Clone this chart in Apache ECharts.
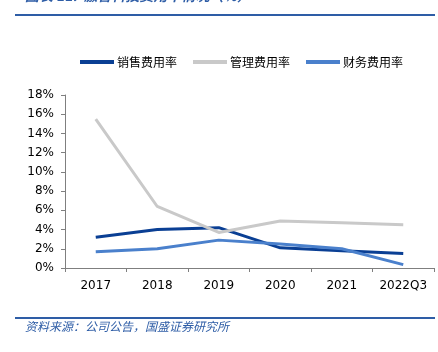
<!DOCTYPE html>
<html>
<head>
<meta charset="utf-8">
<script src="https://cdn.jsdelivr.net/npm/echarts@6/dist/echarts.min.js"></script>
<style>
  html, body { margin: 0; padding: 0; background: #fff; }
  #chart { width: 438px; height: 352px; }
</style>
</head>
<body>
<div id="chart"></div>
<script>
// 年份
var years = ["2017", "2018", "2019", "2020", "2021", "2022Q3"];
// 费用率 (%)
var salesRate = [3.2, 4.0, 4.2, 2.1, 1.8, 1.5];
var adminRate = [15.5, 6.4, 3.7, 4.9, 4.7, 4.5];
var financeRate = [1.7, 2.0, 2.9, 2.5, 2.0, 0.35];

var cjk = '"Noto Sans CJK SC", sans-serif';
var chart = echarts.init(document.getElementById("chart"));

chart.setOption({
  animation: false,
  color: ["#0A3F94", "#C9C9C9", "#4A80CC"],
  legend: {
    top: 51,
    left: 75,
    width: 380,
    itemWidth: 34,
    itemHeight: 4,
    itemGap: 16,
    icon: "rect",
    textStyle: { fontFamily: cjk, fontSize: 12, color: "#000", padding: [0, 0, 0, -2] },
    data: ["销售费用率", "管理费用率", "财务费用率"]
  },
  grid: { left: 65, right: 4, top: 95, bottom: 84 },
  xAxis: {
    type: "category",
    data: years,
    axisLine: { lineStyle: { color: "#7F7F7F", width: 1 } },
    axisTick: { show: true, length: 4, lineStyle: { color: "#7F7F7F" } },
    axisLabel: { color: "#000", fontSize: 12, fontFamily: "DejaVu Sans", margin: 12, interval: 0 }
  },
  yAxis: {
    type: "value",
    min: 0,
    max: 18,
    interval: 2,
    splitLine: { show: false },
    axisLine: { show: true, lineStyle: { color: "#7F7F7F", width: 1 } },
    axisTick: { show: true, length: 4, lineStyle: { color: "#7F7F7F" } },
    axisLabel: { color: "#000", fontSize: 12, fontFamily: "DejaVu Sans", margin: 11, formatter: "{value}%" }
  },
  graphic: [
    { type: "text", left: 25, top: -11, style: { text: "图表 11:  激智科技费用率情况（%）", fill: "#2E5DA6", font: "italic bold 14px " + cjk } },
    { type: "rect", shape: { x: 15, y: 14, width: 420, height: 2 }, style: { fill: "#2E5DA6" } },
    { type: "rect", shape: { x: 15, y: 317, width: 420, height: 2 }, style: { fill: "#2E5DA6" } },
    { type: "text", left: 25, top: 320, style: { text: "资料来源：公司公告，国盛证券研究所", fill: "#2E5DA6", font: "italic 12px " + cjk } }
  ],
  series: [
    { name: "销售费用率", type: "line", data: salesRate, symbol: "none", lineStyle: { width: 3 } },
    { name: "管理费用率", type: "line", data: adminRate, symbol: "none", lineStyle: { width: 3 } },
    { name: "财务费用率", type: "line", data: financeRate, symbol: "none", lineStyle: { width: 3 } }
  ]
});
</script>
</body>
</html>
